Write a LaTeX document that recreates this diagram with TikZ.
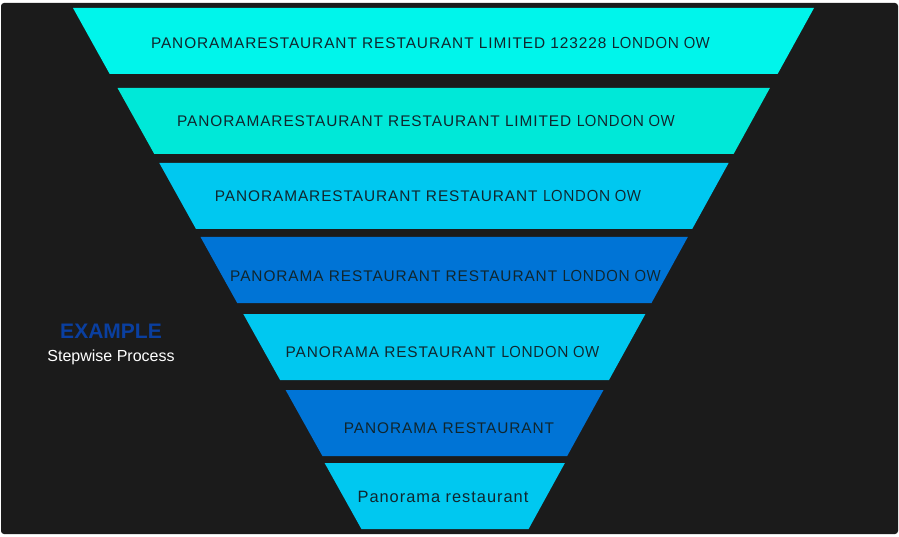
\documentclass[tikz,border=0pt]{standalone}
\usepackage{fontspec}
\setmainfont{Liberation Sans}
\newfontfamily\bandfont[LetterSpace=6]{Liberation Sans}
\newfontfamily\owfont[LetterSpace=2]{Open Sans}
\definecolor{bgdark}{HTML}{1B1B1B}
\definecolor{cyanA}{HTML}{00F5EB}
\definecolor{cyanB}{HTML}{00E8D8}
\definecolor{skyC}{HTML}{00C8F0}
\definecolor{blueD}{HTML}{0074D6}
\definecolor{txtdark}{HTML}{10262E}
\definecolor{exblue}{HTML}{0A3FA0}
\begin{document}
\begin{tikzpicture}[x=1pt,y=-1pt,
  bandtext/.style={text=txtdark,font=\bandfont\fontsize{15.4}{18}\selectfont,inner sep=0pt,anchor=center},
  lowtext/.style={bandtext,font=\bandfont\fontsize{16.4}{19}\selectfont}]
\useasboundingbox (0,0) rectangle (899,537);
\fill[white] (0,0) rectangle (899,537);
\fill[bgdark,rounded corners=3pt] (1,3) rectangle (898,534);
% bands
\fill[cyanA] (73,8) -- (814,8) -- (777.6,74) -- (109.7,74) -- cycle;
\fill[cyanB] (117.5,88) -- (769.9,88) -- (733.6,154) -- (154.3,154) -- cycle;
\fill[skyC] (159.3,163) -- (728.6,163) -- (692.2,229) -- (196.0,229) -- cycle;
\fill[blueD] (200.5,237) -- (687.8,237) -- (651.5,303) -- (237.2,303) -- cycle;
\fill[skyC] (243.3,314) -- (645.4,314) -- (609.0,380) -- (280.1,380) -- cycle;
\fill[blueD] (285.6,390) -- (603.5,390) -- (567.2,456) -- (322.4,456) -- cycle;
\fill[skyC] (324.6,463) -- (564.9,463) -- (528.6,529) -- (361.4,529) -- cycle;
% texts
\node[bandtext] (t1) at (430.5,43) {PANORAMARESTAURANT RESTAURANT LIMITED 123228 {\owfont LONDON OW}};
\node[bandtext] (t2) at (426,121) {PANORAMARESTAURANT RESTAURANT LIMITED {\owfont LONDON OW}};
\node[bandtext] (t3) at (428,196) {PANORAMARESTAURANT RESTAURANT {\owfont LONDON OW}};
\node[bandtext] (t4) at (445.5,276) {PANORAMA RESTAURANT RESTAURANT {\owfont LONDON OW}};
\node[bandtext] (t5) at (442.5,352) {PANORAMA RESTAURANT {\owfont LONDON OW}};
\node[bandtext] (t6) at (449,428) {PANORAMA RESTAURANT};
\node[lowtext] (t7) at (443,497) {Panorama restaurant};
% side label
\node[text=exblue,font=\bfseries\fontsize{21}{24}\selectfont,inner sep=0pt] (ex) at (111,331) {EXAMPLE};
\node[text=white,font=\fontsize{16}{19}\selectfont,inner sep=0pt] (sp) at (111,357) {Stepwise Process};
\end{tikzpicture}
\end{document}
